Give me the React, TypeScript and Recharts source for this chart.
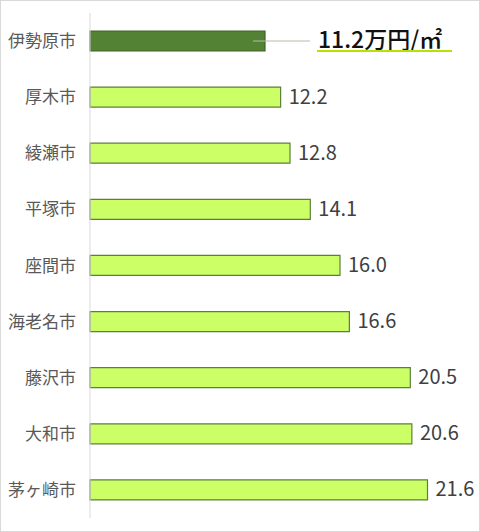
import { BarChart, Bar, XAxis, YAxis, Cell, LabelList } from 'recharts';

const cities = ['伊勢原市', '厚木市', '綾瀬市', '平塚市', '座間市', '海老名市', '藤沢市', '大和市', '茅ヶ崎市'];
const prices = [11.2, 12.2, 12.8, 14.1, 16.0, 16.6, 20.5, 20.6, 21.6];
const unit = '万円/㎡';

const data = cities.map((city, i) => ({ city, price: prices[i] }));

const FONT = '"Noto Sans CJK JP", "Noto Sans", sans-serif';

function PriceLabel(props: any) {
  const { x, y, width, height, value, index } = props;
  const cy = y + height / 2;
  const end = x + width;
  if (index === 0) {
    const tx = end + 53;
    return (
      <g>
        <line x1={end - 12} y1={cy} x2={end + 45} y2={cy} stroke="#b4bca8" strokeWidth={1.2} />
        <text
          x={tx}
          y={cy + 1}
          dominantBaseline="middle"
          fontSize={23}
          fontWeight={500}
          fontFamily={FONT}
          fill="#111"
        >
          {value.toFixed(1)}
          {unit}
        </text>
        <line x1={tx - 1} y1={cy + 10} x2={tx + 134} y2={cy + 10} stroke="#b8e000" strokeWidth={2} />
      </g>
    );
  }
  return (
    <text x={end + 8} y={cy + 1} dominantBaseline="middle" fontSize={20} fontFamily={FONT} fill="#404040">
      {value.toFixed(1)}
    </text>
  );
}

export default function App() {
  return (
    <div
      style={{
        position: 'absolute',
        left: 0,
        top: 0,
        width: 480,
        height: 532,
        border: '1px solid #d9d9d9',
        boxSizing: 'border-box',
        background: '#fff',
      }}
    >
      <BarChart
        width={478}
        height={530}
        data={data}
        layout="vertical"
        margin={{ top: 12, right: 14, bottom: 13, left: 0 }}
        barSize={20}
      >
        <XAxis type="number" domain={[0, 24]} hide />
        <YAxis
          type="category"
          dataKey="city"
          width={89}
          axisLine={{ stroke: '#d9d9d9' }}
          tickLine={false}
          tickSize={0}
          tickMargin={14}
          tick={{ fontSize: 17, fill: '#595959', fontFamily: FONT }}
        />
        <Bar dataKey="price" stroke="#5e7f3c" strokeWidth={1.2} isAnimationActive={false}>
          {data.map((d, i) => (
            <Cell key={d.city} fill={i === 0 ? '#548235' : '#ccff66'} stroke={i === 0 ? '#3f6426' : '#5e7f3c'} />
          ))}
          <LabelList dataKey="price" content={PriceLabel} />
        </Bar>
      </BarChart>
    </div>
  );
}
